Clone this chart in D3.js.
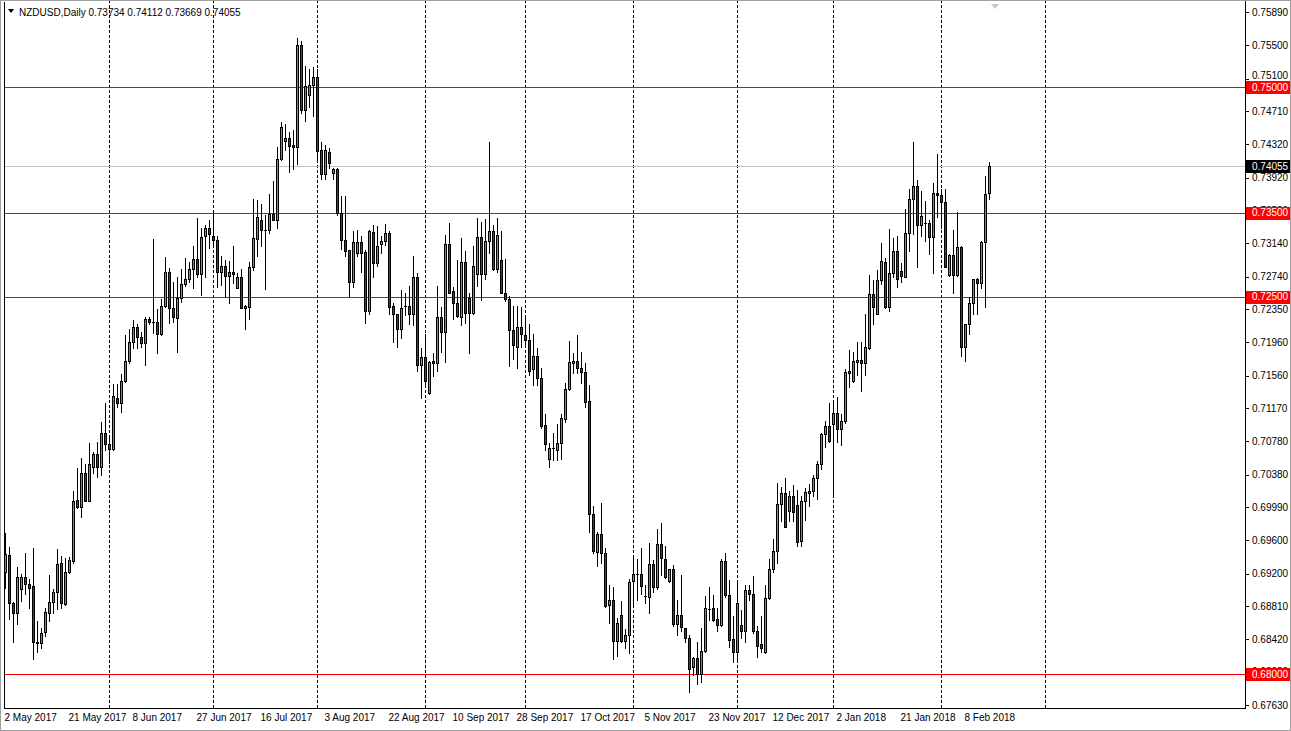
<!DOCTYPE html>
<html>
<head>
<meta charset="utf-8">
<script src="https://cdn.jsdelivr.net/npm/d3@7/dist/d3.min.js"></script>
<style>
html,body{margin:0;padding:0;background:#fff;}
svg{display:block;}
text{font-family:"Liberation Sans",Arial,sans-serif;font-size:10px;fill:#000;}
</style>
</head>
<body>
<svg id="chart" width="1291" height="731"></svg>
<script>
const symbolTitle = "NZDUSD,Daily";
const lastQuote = ["0.73734", "0.74112", "0.73669", "0.74055"];

const open = [0.6922,0.6942,0.6885,0.6873,0.6902,0.6916,0.6908,0.6905,0.6839,0.6837,0.6850,0.6873,0.6886,0.6898,0.6933,0.6884,0.6922,0.6935,0.7008,0.6999,0.7040,0.7007,0.7047,0.7063,0.7047,0.7088,0.7074,0.7069,0.7129,0.7123,0.7149,0.7173,0.7196,0.7214,0.7202,0.7195,0.7223,0.7220,0.7220,0.7206,0.7239,0.7279,0.7236,0.7225,0.7248,0.7265,0.7271,0.7283,0.7295,0.7277,0.7322,0.7332,0.7322,0.7318,0.7279,0.7287,0.7275,0.7280,0.7261,0.7273,0.7237,0.7238,0.7285,0.7319,0.7342,0.7330,0.7329,0.7349,0.7342,0.7414,0.7436,0.7439,0.7431,0.7428,0.7550,0.7473,0.7490,0.7502,0.7512,0.7425,0.7396,0.7423,0.7398,0.7402,0.7350,0.7318,0.7306,0.7267,0.7302,0.7315,0.7303,0.7233,0.7327,0.7290,0.7313,0.7316,0.7326,0.7239,0.7229,0.7211,0.7239,0.7239,0.7229,0.7273,0.7169,0.7178,0.7135,0.7173,0.7171,0.7226,0.7208,0.7313,0.7257,0.7243,0.7226,0.7291,0.7249,0.7231,0.7277,0.7321,0.7277,0.7316,0.7328,0.7283,0.7294,0.7255,0.7247,0.7210,0.7190,0.7214,0.7204,0.7199,0.7164,0.7179,0.7153,0.7097,0.7057,0.7070,0.7067,0.7076,0.7104,0.7140,0.7171,0.7173,0.7165,0.7160,0.7126,0.6991,0.6946,0.6967,0.6945,0.6882,0.6889,0.6840,0.6871,0.6840,0.6847,0.6911,0.6920,0.6920,0.6893,0.6892,0.6931,0.6904,0.6955,0.6937,0.6911,0.6926,0.6860,0.6871,0.6855,0.6843,0.6809,0.6819,0.6800,0.6828,0.6878,0.6879,0.6866,0.6859,0.6935,0.6894,0.6842,0.6826,0.6859,0.6851,0.6901,0.6896,0.6851,0.6836,0.6826,0.6891,0.6925,0.6947,0.7003,0.7016,0.6995,0.7012,0.7002,0.6959,0.7006,0.7016,0.7018,0.7034,0.7051,0.7086,0.7096,0.7098,0.7112,0.7092,0.7102,0.7159,0.7149,0.7172,0.7175,0.7171,0.7189,0.7253,0.7230,0.7270,0.7291,0.7238,0.7278,0.7305,0.7281,0.7274,0.7326,0.7367,0.7382,0.7336,0.7338,0.7338,0.7321,0.7374,0.7371,0.7363,0.7276,0.7300,0.7276,0.7309,0.7190,0.7217,0.7243,0.7271,0.7266,0.7315,0.73734];
const high = [0.6968,0.6952,0.6886,0.6928,0.6920,0.6944,0.6914,0.6951,0.6863,0.6855,0.6879,0.6918,0.6902,0.6949,0.6941,0.6938,0.6940,0.7018,0.7046,0.7058,0.7051,0.7076,0.7065,0.7077,0.7101,0.7123,0.7084,0.7146,0.7146,0.7158,0.7204,0.7212,0.7222,0.7218,0.7208,0.7226,0.7226,0.7319,0.7235,0.7247,0.7297,0.7284,0.7267,0.7273,0.7283,0.7296,0.7291,0.7311,0.7344,0.7332,0.7335,0.7342,0.7349,0.7322,0.7298,0.7294,0.7293,0.7311,0.7278,0.7283,0.7240,0.7292,0.7367,0.7365,0.7361,0.7347,0.7372,0.7388,0.7429,0.7458,0.7456,0.7446,0.7449,0.7558,0.7555,0.7525,0.7521,0.7524,0.7521,0.7434,0.7431,0.7427,0.7403,0.7403,0.7370,0.7370,0.7306,0.7328,0.7330,0.7322,0.7306,0.7330,0.7335,0.7334,0.7322,0.7337,0.7328,0.7242,0.7230,0.7258,0.7255,0.7263,0.7298,0.7278,0.7189,0.7206,0.7173,0.7183,0.7263,0.7238,0.7324,0.7338,0.7262,0.7294,0.7320,0.7304,0.7254,0.7311,0.7344,0.7339,0.7343,0.7434,0.7336,0.7344,0.7328,0.7295,0.7251,0.7239,0.7239,0.7238,0.7227,0.7218,0.7206,0.7189,0.7165,0.7110,0.7076,0.7087,0.7098,0.7110,0.7147,0.7197,0.7183,0.7204,0.7184,0.7171,0.7145,0.7001,0.6969,0.7004,0.6950,0.6906,0.6904,0.6867,0.6887,0.6854,0.6914,0.6942,0.6937,0.6951,0.6906,0.6957,0.6936,0.6973,0.6980,0.6953,0.6926,0.6930,0.6889,0.6918,0.6855,0.6847,0.6820,0.6838,0.6855,0.6893,0.6904,0.6894,0.6879,0.6937,0.6944,0.6912,0.6869,0.6912,0.6877,0.6906,0.6906,0.6917,0.6858,0.6869,0.6906,0.6937,0.6961,0.7028,0.7023,0.7034,0.7018,0.7026,0.7020,0.7012,0.7022,0.7027,0.7038,0.7054,0.7088,0.7102,0.7123,0.7123,0.7130,0.7110,0.7164,0.7187,0.7184,0.7196,0.7196,0.7230,0.7276,0.7270,0.7282,0.7314,0.7296,0.7331,0.7320,0.7322,0.7290,0.7355,0.7378,0.7434,0.7389,0.7376,0.7364,0.7342,0.7386,0.7420,0.7379,0.7379,0.7301,0.7330,0.7351,0.7310,0.7218,0.7250,0.7271,0.7272,0.7316,0.7394,0.74112];
const low = [0.6903,0.6866,0.6838,0.6860,0.6887,0.6896,0.6879,0.6818,0.6826,0.6831,0.6846,0.6863,0.6873,0.6878,0.6879,0.6882,0.6921,0.6933,0.6998,0.6987,0.7006,0.7006,0.7040,0.7035,0.7038,0.7067,0.7052,0.7067,0.7118,0.7113,0.7148,0.7171,0.7189,0.7189,0.7190,0.7169,0.7218,0.7207,0.7183,0.7204,0.7238,0.7219,0.7220,0.7184,0.7244,0.7263,0.7268,0.7260,0.7273,0.7252,0.7273,0.7308,0.7310,0.7262,0.7264,0.7250,0.7243,0.7266,0.7260,0.7236,0.7211,0.7223,0.7282,0.7298,0.7310,0.7259,0.7326,0.7341,0.7332,0.7413,0.7425,0.7399,0.7402,0.7408,0.7469,0.7459,0.7476,0.7465,0.7414,0.7390,0.7390,0.7404,0.7390,0.7347,0.7307,0.7298,0.7250,0.7262,0.7298,0.7280,0.7219,0.7230,0.7274,0.7287,0.7302,0.7312,0.7229,0.7196,0.7190,0.7201,0.7228,0.7218,0.7216,0.7162,0.7129,0.7145,0.7134,0.7155,0.7162,0.7184,0.7172,0.7254,0.7224,0.7226,0.7216,0.7219,0.7183,0.7230,0.7263,0.7246,0.7271,0.7302,0.7282,0.7279,0.7254,0.7245,0.7167,0.7176,0.7165,0.7190,0.7190,0.7157,0.7145,0.7145,0.7094,0.7067,0.7047,0.7055,0.7055,0.7057,0.7101,0.7139,0.7159,0.7159,0.7147,0.7118,0.6969,0.6945,0.6929,0.6933,0.6880,0.6861,0.6818,0.6822,0.6839,0.6831,0.6825,0.6881,0.6889,0.6896,0.6885,0.6873,0.6898,0.6902,0.6918,0.6915,0.6910,0.6858,0.6847,0.6851,0.6839,0.6779,0.6799,0.6788,0.6791,0.6827,0.6865,0.6863,0.6851,0.6858,0.6892,0.6832,0.6815,0.6816,0.6843,0.6838,0.6889,0.6849,0.6820,0.6827,0.6825,0.6890,0.6922,0.6933,0.6983,0.6975,0.6983,0.6983,0.6953,0.6953,0.6984,0.7000,0.7012,0.7009,0.7045,0.7071,0.7077,0.7014,0.7077,0.7073,0.7100,0.7143,0.7148,0.7157,0.7138,0.7157,0.7188,0.7218,0.7229,0.7265,0.7236,0.7233,0.7273,0.7262,0.7267,0.7273,0.7305,0.7325,0.7286,0.7322,0.7316,0.7301,0.7278,0.7345,0.7332,0.7285,0.7275,0.7255,0.7275,0.7179,0.7174,0.7206,0.7230,0.7230,0.7260,0.7238,0.73669];
const close = [0.6943,0.6885,0.6873,0.6916,0.6916,0.6908,0.6903,0.6838,0.6837,0.6849,0.6874,0.6886,0.6898,0.6932,0.6885,0.6922,0.6936,0.7006,0.6999,0.7040,0.7007,0.7051,0.7063,0.7047,0.7088,0.7075,0.7069,0.7132,0.7123,0.7149,0.7173,0.7196,0.7214,0.7202,0.7195,0.7223,0.7220,0.7220,0.7206,0.7239,0.7279,0.7236,0.7226,0.7248,0.7265,0.7271,0.7283,0.7295,0.7277,0.7321,0.7332,0.7325,0.7318,0.7279,0.7287,0.7275,0.7280,0.7277,0.7274,0.7237,0.7239,0.7286,0.7320,0.7345,0.7330,0.7329,0.7349,0.7342,0.7414,0.7452,0.7439,0.7430,0.7428,0.7550,0.7473,0.7501,0.7502,0.7512,0.7424,0.7396,0.7425,0.7409,0.7402,0.7350,0.7318,0.7305,0.7267,0.7315,0.7315,0.7302,0.7233,0.7328,0.7290,0.7310,0.7316,0.7326,0.7238,0.7229,0.7211,0.7236,0.7239,0.7229,0.7273,0.7169,0.7178,0.7149,0.7172,0.7171,0.7226,0.7208,0.7313,0.7255,0.7243,0.7227,0.7291,0.7231,0.7231,0.7287,0.7321,0.7277,0.7316,0.7328,0.7283,0.7324,0.7255,0.7247,0.7210,0.7192,0.7214,0.7205,0.7199,0.7162,0.7179,0.7153,0.7096,0.7075,0.7070,0.7070,0.7076,0.7105,0.7140,0.7172,0.7173,0.7165,0.7160,0.7125,0.6991,0.6947,0.6967,0.6945,0.6881,0.6889,0.6840,0.6861,0.6840,0.6847,0.6910,0.6920,0.6920,0.6905,0.6893,0.6931,0.6904,0.6955,0.6938,0.6916,0.6925,0.6860,0.6871,0.6856,0.6843,0.6806,0.6819,0.6800,0.6828,0.6879,0.6878,0.6865,0.6859,0.6935,0.6894,0.6841,0.6826,0.6885,0.6851,0.6901,0.6896,0.6851,0.6834,0.6831,0.6891,0.6925,0.6947,0.7003,0.7016,0.6976,0.7012,0.6993,0.6958,0.7006,0.7017,0.7018,0.7034,0.7051,0.7086,0.7096,0.7078,0.7112,0.7092,0.7102,0.7160,0.7162,0.7173,0.7175,0.7171,0.7190,0.7253,0.7238,0.7270,0.7293,0.7238,0.7278,0.7305,0.7271,0.7275,0.7326,0.7367,0.7382,0.7336,0.7346,0.7338,0.7321,0.7374,0.7371,0.7363,0.7286,0.7300,0.7276,0.7309,0.7190,0.7217,0.7242,0.7271,0.7266,0.7315,0.7373,0.74055];

const dateLabels = ["2 May 2017","21 May 2017","8 Jun 2017","27 Jun 2017","16 Jul 2017","3 Aug 2017","22 Aug 2017","10 Sep 2017","28 Sep 2017","17 Oct 2017","5 Nov 2017","23 Nov 2017","12 Dec 2017","2 Jan 2018","21 Jan 2018","8 Feb 2018"];
const dateLabelBars = [0,16,32,48,64,80,96,112,128,144,160,176,192,208,224,240];
const monthStartBars = [26,52,78,105,130,157,183,207,234,260];
const priceTicks = [0.7589,0.7550,0.7510,0.7471,0.7432,0.7392,0.7353,0.7314,0.7274,0.7235,0.7196,0.7156,0.7117,0.7078,0.7038,0.6999,0.6960,0.6920,0.6881,0.6842,0.6803,0.6763];
const levelLines = [0.75000, 0.73500, 0.72500, 0.68000];
const bidPrice = 0.74055;

const W = 1291, H = 731;
const plotLeft = 4, plotRight = 1245, plotTop = 0, plotBottom = 708;

const svg = d3.select("#chart");
const x = d3.scaleLinear().domain([0, 260]).range([5.5, 1045.5]);
const y = d3.scaleLinear().domain([0.67598, 0.76037]).range([plotBottom, plotTop]);
const snap = v => Math.round(v) + 0.5;
const fmt = d3.format(".5f");

svg.append("rect").attr("x",0).attr("y",0).attr("width",W).attr("height",H).attr("fill","#fff");

// vertical month grid (dashed)
svg.append("g").selectAll("line").data(monthStartBars).join("line")
  .attr("x1", d => x(d)).attr("x2", d => x(d))
  .attr("y1", plotTop).attr("y2", plotBottom)
  .attr("stroke", "#000").attr("stroke-width", 1).attr("stroke-dasharray", "3,2");

// horizontal level lines
svg.append("g").selectAll("line").data(levelLines).join("line")
  .attr("x1", plotLeft).attr("x2", plotRight)
  .attr("y1", d => snap(y(d))).attr("y2", d => snap(y(d)))
  .attr("stroke", "#ff0000").attr("stroke-width", 1);

// bid line
svg.append("line")
  .attr("x1", plotLeft).attr("x2", plotRight)
  .attr("y1", snap(y(bidPrice))).attr("y2", snap(y(bidPrice)))
  .attr("stroke", "#c0c0c0").attr("stroke-width", 1);

// candles
const idx = d3.range(open.length);
const cg = svg.append("g");
cg.selectAll("line.wick").data(idx).join("line").attr("class","wick")
  .attr("x1", i => x(i)).attr("x2", i => x(i))
  .attr("y1", i => Math.round(y(high[i]))).attr("y2", i => Math.round(y(low[i])) + 1)
  .attr("stroke", "#000").attr("stroke-width", 1);
cg.selectAll("rect.body").data(idx.filter(i => Math.round(y(open[i])) !== Math.round(y(close[i])))).join("rect").attr("class","body")
  .attr("x", i => x(i) - 1)
  .attr("y", i => snap(y(Math.max(open[i], close[i]))))
  .attr("width", 2)
  .attr("height", i => Math.round(y(Math.min(open[i], close[i]))) - Math.round(y(Math.max(open[i], close[i]))))
  .attr("fill", i => close[i] >= open[i] ? "#22cc22" : "#e00000")
  .attr("stroke", "#000").attr("stroke-width", 1);
cg.selectAll("line.doji").data(idx.filter(i => Math.round(y(open[i])) === Math.round(y(close[i])))).join("line").attr("class","doji")
  .attr("x1", i => x(i) - 1.5).attr("x2", i => x(i) + 1.5)
  .attr("y1", i => snap(y(open[i]))).attr("y2", i => snap(y(open[i])))
  .attr("stroke", "#000").attr("stroke-width", 1);

// frame
svg.append("line").attr("x1", plotLeft + 0.5).attr("x2", plotLeft + 0.5).attr("y1", 2).attr("y2", plotBottom + 0.5).attr("stroke", "#000");
svg.append("line").attr("x1", plotLeft).attr("x2", plotRight + 1).attr("y1", plotBottom + 0.5).attr("y2", plotBottom + 0.5).attr("stroke", "#000");
svg.append("line").attr("x1", plotRight + 0.5).attr("x2", plotRight + 0.5).attr("y1", 0).attr("y2", plotBottom + 1).attr("stroke", "#000");
svg.append("rect").attr("x", 0.5).attr("y", 0.5).attr("width", W - 1).attr("height", H - 1).attr("fill", "none").attr("stroke", "#a0a0a0");

// level label boxes (red) and bid box (black)
const boxes = levelLines.map(v => ({v, bg: "#ff0000"})).concat([{v: bidPrice, bg: "#000"}]);

// label position: keep clear of nearby level boxes (labels fully under a box stay hidden beneath it)
function labelY(t) {
  let yy = y(t);
  boxes.forEach(b => {
    const d = yy - y(b.v);
    const ad = Math.abs(d);
    if (ad > 3 && ad < 11.5) yy = y(b.v) + Math.sign(d) * 11.5;
  });
  return yy;
}

// right price axis
const ax = svg.append("g");
ax.selectAll("line").data(priceTicks).join("line")
  .attr("x1", plotRight).attr("x2", plotRight + 4)
  .attr("y1", d => snap(y(d))).attr("y2", d => snap(y(d)))
  .attr("stroke", "#000");
ax.selectAll("text").data(priceTicks).join("text")
  .attr("x", 1252).attr("y", d => labelY(d)).attr("dy", "0.35em")
  .text(d => fmt(d));

const lab = svg.append("g");
lab.selectAll("rect").data(boxes).join("rect")
  .attr("x", 1246).attr("y", d => Math.round(y(d.v)) - 6).attr("width", 44).attr("height", 13)
  .attr("fill", d => d.bg);
lab.selectAll("text").data(boxes).join("text")
  .attr("x", 1252).attr("y", d => y(d.v)).attr("dy", "0.35em")
  .style("fill", "#fff").text(d => fmt(d.v));

// bottom date axis
svg.append("g").selectAll("text").data(dateLabelBars).join("text")
  .attr("x", d => x(d) - 1).attr("y", 721)
  .text((d, k) => dateLabels[k]);

// header
svg.append("path").attr("d", "M8,9 L14,9 L11,13 Z").attr("fill", "#000");
svg.append("text").attr("x", 19).attr("y", 16)
  .text(symbolTitle + "  " + lastQuote.join(" "));

// shift marker
svg.append("path").attr("d", "M991,4 L999,4 L995,9 Z").attr("fill", "#c8c8c8");
</script>
</body>
</html>
